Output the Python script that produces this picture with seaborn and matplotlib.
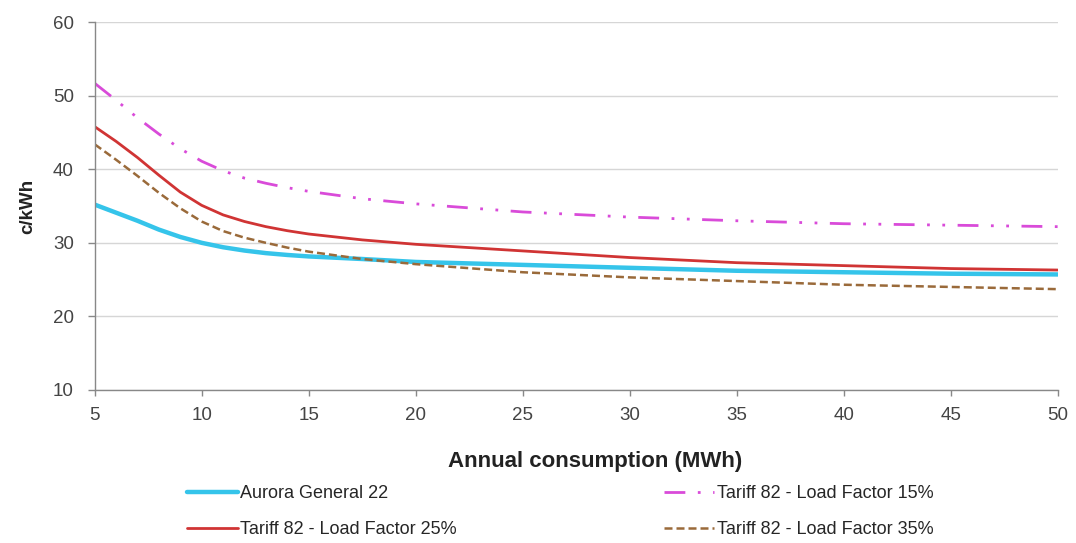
import matplotlib
matplotlib.use("Agg")
import matplotlib.pyplot as plt
import seaborn as sns
import pandas as pd

consumption = [5, 6, 7, 8, 9, 10, 11, 12, 13, 14, 15, 17.5, 20, 25, 30, 35, 40, 45, 50]
aurora_g22 = [35.2, 34.1, 33.0, 31.8, 30.8, 30.0, 29.4, 28.95, 28.6, 28.35, 28.15, 27.8, 27.4, 27.0, 26.6, 26.2, 26.0, 25.8, 25.7]
lf15 = [51.7, 49.4, 47.0, 44.8, 42.8, 41.1, 39.8, 38.8, 38.1, 37.5, 37.0, 36.0, 35.3, 34.2, 33.5, 33.0, 32.6, 32.4, 32.2]
lf25 = [45.8, 43.8, 41.6, 39.2, 36.9, 35.1, 33.8, 32.9, 32.2, 31.65, 31.2, 30.4, 29.8, 28.9, 28.0, 27.3, 26.9, 26.5, 26.3]
lf35 = [43.4, 41.3, 39.1, 36.8, 34.7, 32.9, 31.6, 30.7, 30.0, 29.35, 28.8, 27.8, 27.1, 26.0, 25.3, 24.8, 24.3, 24.0, 23.7]

series_names = ["Aurora General 22", "Tariff 82 - Load Factor 25%",
                "Tariff 82 - Load Factor 15%", "Tariff 82 - Load Factor 35%"]
series_values = [aurora_g22, lf25, lf15, lf35]
x_ticks = [5, 10, 15, 20, 25, 30, 35, 40, 45, 50]
y_ticks = [10, 20, 30, 40, 50, 60]

styles = {
    "Aurora General 22": dict(color="#35C4EA", lw=3.2, dashes=None),
    "Tariff 82 - Load Factor 25%": dict(color="#D03434", lw=2.0, dashes=None),
    "Tariff 82 - Load Factor 15%": dict(color="#D94BD9", lw=2.0, dashes=(7.5, 4.5, 1, 4.5, 1, 4.5)),
    "Tariff 82 - Load Factor 35%": dict(color="#9A6A3A", lw=1.8, dashes=(3.2, 1.6)),
}

sns.set_theme(style="white")
plt.rcParams['font.family'] = ['Liberation Sans', 'DejaVu Sans']

fig = plt.figure(figsize=(10.76, 5.43), dpi=100)
ax = fig.add_axes([0.088, 0.282, 0.895, 0.677])

for name, vals in zip(series_names, series_values):
    df = pd.DataFrame({"x": consumption, "y": vals})
    st = styles[name]
    sns.lineplot(data=df, x="x", y="y", ax=ax, color=st["color"], linewidth=st["lw"],
                 label=name, legend=False)
    line = ax.lines[-1]
    line.set_solid_joinstyle("round")
    if st["dashes"] is not None:
        line.set_dashes(st["dashes"])

ax.set_xlim(5, 50)
ax.set_ylim(10, 60)
ax.set_xticks(x_ticks)
ax.set_yticks(y_ticks)
ax.yaxis.grid(True, color="#D6D6D6", linewidth=1.0)
ax.xaxis.grid(False)
for s in ["top", "right"]:
    ax.spines[s].set_visible(False)
for s in ["left", "bottom"]:
    ax.spines[s].set_color("#888888")
    ax.spines[s].set_linewidth(1.0)
ax.tick_params(axis="y", direction="out", length=5, width=1, color="#888888",
               labelsize=13.5, labelcolor="#444444", pad=10, left=True)
ax.tick_params(axis="x", direction="out", length=4, width=1, color="#888888",
               labelsize=13.5, labelcolor="#444444", pad=8, bottom=True)
ax.set_xlabel("Annual consumption (MWh)", fontsize=16, fontweight="bold", color="#222222")
ax.xaxis.set_label_coords((595 - 95) / 963, (390 - 451) / 368)
ax.set_ylabel("c/kWh", fontsize=13.5, fontweight="bold", labelpad=12, color="#222222")

handles = ax.lines
leg = fig.legend(handles=handles, labels=series_names, ncol=2, loc="upper left",
                 bbox_to_anchor=(187 / 1076, 1 - 485 / 543), frameon=False, fontsize=13,
                 handlelength=2.8, handletextpad=0.15, columnspacing=11.45, labelspacing=1.05,
                 borderpad=0, borderaxespad=0)

fig.savefig("out.png", dpi=100)
